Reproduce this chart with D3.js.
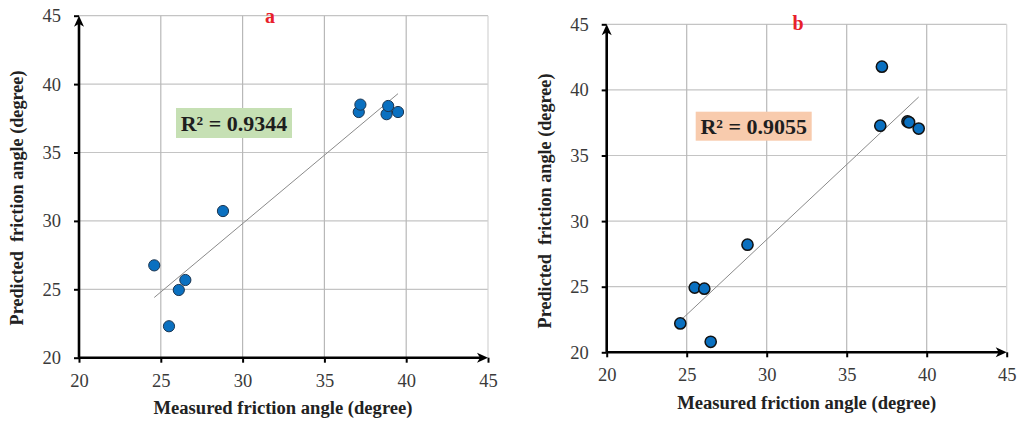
<!DOCTYPE html>
<html>
<head>
<meta charset="utf-8">
<script src="https://cdn.jsdelivr.net/npm/d3@7"></script>
<style>
  html, body { margin: 0; padding: 0; background: #fff; }
  svg { display: block; }
  svg text { font-family: 'Liberation Serif', 'Times New Roman', serif; }
</style>
</head>
<body>
<svg id="chart" width="1017" height="421"></svg>
<script>
// ---- Data ----
const measured = [24.6, 25.5, 26.1, 26.5, 28.8, 37.1, 37.2, 38.8, 38.9, 39.5];
const predictedA = [26.75, 22.3, 24.95, 25.68, 30.72, 37.96, 38.5, 37.8, 38.4, 37.96];
const predictedB = [22.2, 24.93, 24.85, 20.8, 28.2, 37.27, 41.77, 37.6, 37.53, 37.05];
const ticks = [20, 25, 30, 35, 40, 45];
const panelLabels = ["a", "b"];
const r2Labels = ["R² = 0.9344", "R² = 0.9055"];
const xTitle = "Measured friction angle (degree)";
const yTitle = "Predicted  friction angle (degree)";

const svg = d3.select("#chart");
const serif = "'Liberation Serif', 'Times New Roman', serif";

function linfit(xs, ys) {
  const mx = d3.mean(xs), my = d3.mean(ys);
  let sxy = 0, sxx = 0;
  xs.forEach((x, i) => { sxy += (x - mx) * (ys[i] - my); sxx += (x - mx) * (x - mx); });
  const b = sxy / sxx;
  return { slope: b, intercept: my - b * mx };
}

function panel(opt) {
  const g = svg.append("g");
  const x = d3.scaleLinear().domain([20, 45]).range([opt.left, opt.right]);
  const y = d3.scaleLinear().domain([20, 45]).range([opt.bottom, opt.top]);

  // gridlines
  g.append("g").selectAll("line.h").data(ticks.slice(1)).join("line")
    .attr("x1", opt.left).attr("x2", opt.right)
    .attr("y1", d => y(d)).attr("y2", d => y(d))
    .attr("stroke", "#c4c4c4").attr("stroke-width", 1.2);
  g.append("g").selectAll("line.v").data(ticks.slice(1)).join("line")
    .attr("x1", d => x(d)).attr("x2", d => x(d))
    .attr("y1", opt.top).attr("y2", opt.bottom)
    .attr("stroke", d => d === 45 ? "#d4d4d4" : "#b8b8b8").attr("stroke-width", 1.2);

  // trendline
  const fit = linfit(measured, opt.values);
  const x0 = d3.min(measured), x1 = d3.max(measured);
  g.append("line")
    .attr("x1", x(x0)).attr("y1", y(fit.intercept + fit.slope * x0))
    .attr("x2", x(x1)).attr("y2", y(fit.intercept + fit.slope * x1))
    .attr("stroke", "#8a8a8a").attr("stroke-width", 1);

  // axes
  const xAxis = d3.axisBottom(x).tickValues(ticks).tickSize(5).tickPadding(11);
  const yAxis = d3.axisLeft(y).tickValues(ticks).tickSize(5).tickPadding(13);
  const gx = g.append("g").attr("transform", `translate(0,${opt.bottom})`).call(xAxis);
  const gy = g.append("g").attr("transform", `translate(${opt.left},0)`).call(yAxis);
  [gx, gy].forEach(a => {
    a.attr("font-family", null).attr("font-size", null);
    a.select(".domain").remove();
    a.selectAll(".tick line").attr("stroke", "#000").attr("stroke-width", 2);
    a.selectAll(".tick text").style("font-family", serif).style("font-size", "18.5px")
      .attr("fill", "#3a3a3a");
  });
  // axis lines with arrows
  g.append("line").attr("x1", opt.left).attr("x2", x(45) - 6)
    .attr("y1", opt.bottom).attr("y2", opt.bottom)
    .attr("stroke", "#000").attr("stroke-width", 2.6);
  g.append("line").attr("x1", opt.left).attr("x2", opt.left)
    .attr("y1", opt.bottom).attr("y2", y(45) + 6)
    .attr("stroke", "#000").attr("stroke-width", 2.6);
  const ax = x(45), ay = opt.bottom;
  g.append("path").attr("d", `M${ax},${ay} L${ax - 11},${ay - 5} L${ax - 8},${ay} L${ax - 11},${ay + 5} Z`)
    .attr("fill", "#000");
  const bx = opt.left, by = y(45);
  g.append("path").attr("d", `M${bx},${by} L${bx - 5},${by + 11} L${bx},${by + 8} L${bx + 5},${by + 11} Z`)
    .attr("fill", "#000");

  // points
  g.append("g").selectAll("circle").data(measured).join("circle")
    .attr("cx", d => x(d)).attr("cy", (d, i) => y(opt.values[i]))
    .attr("r", 5.6).attr("fill", "#0a70c0")
    .attr("stroke", opt.stroke).attr("stroke-width", opt.strokeW);

  // R2 box
  const bw = opt.box[2], bh = opt.box[3];
  g.append("rect").attr("x", opt.box[0]).attr("y", opt.box[1]).attr("width", bw).attr("height", bh)
    .attr("fill", opt.boxFill);
  g.append("text").attr("x", opt.box[0] + bw / 2).attr("y", opt.box[1] + bh / 2 + 7.5)
    .attr("text-anchor", "middle").style("font-family", serif).attr("font-weight", "bold")
    .style("font-size", "22px").attr("fill", "#1e1e1e").text(opt.r2);

  // panel letter
  g.append("text").attr("x", opt.letter[0]).attr("y", opt.letter[1])
    .attr("text-anchor", "middle").style("font-family", serif).attr("font-weight", "bold")
    .style("font-size", "20px").attr("fill", "#e8202a").text(opt.label);

  // axis titles
  g.append("text").attr("x", opt.xTitle[0]).attr("y", opt.xTitle[1])
    .attr("text-anchor", "middle").style("font-family", serif).attr("font-weight", "bold")
    .style("font-size", "18.6px").attr("fill", "#222").text(xTitle);
  g.append("text").attr("transform", `translate(${opt.yTitle[0]},${opt.yTitle[1]}) rotate(-90)`)
    .attr("text-anchor", "middle").style("font-family", serif).attr("font-weight", "bold")
    .style("font-size", "18.2px").attr("fill", "#222").style("white-space", "pre").text(yTitle);
}

panel({
  left: 79, right: 488, top: 15.7, bottom: 357.7,
  values: predictedA, label: panelLabels[0], r2: r2Labels[0],
  box: [176, 108, 116, 30], boxFill: "#c6e0b4",
  letter: [270, 23], xTitle: [283, 414], yTitle: [23, 198],
  stroke: "#1b3550", strokeW: 1
});
panel({
  left: 606.7, right: 1006.7, top: 24.3, bottom: 352.3,
  values: predictedB, label: panelLabels[1], r2: r2Labels[1],
  box: [695.7, 111.7, 116, 29], boxFill: "#f8cbad",
  letter: [798, 30], xTitle: [806.7, 409], yTitle: [551, 201],
  stroke: "#111", strokeW: 1.5
});
</script>
</body>
</html>
